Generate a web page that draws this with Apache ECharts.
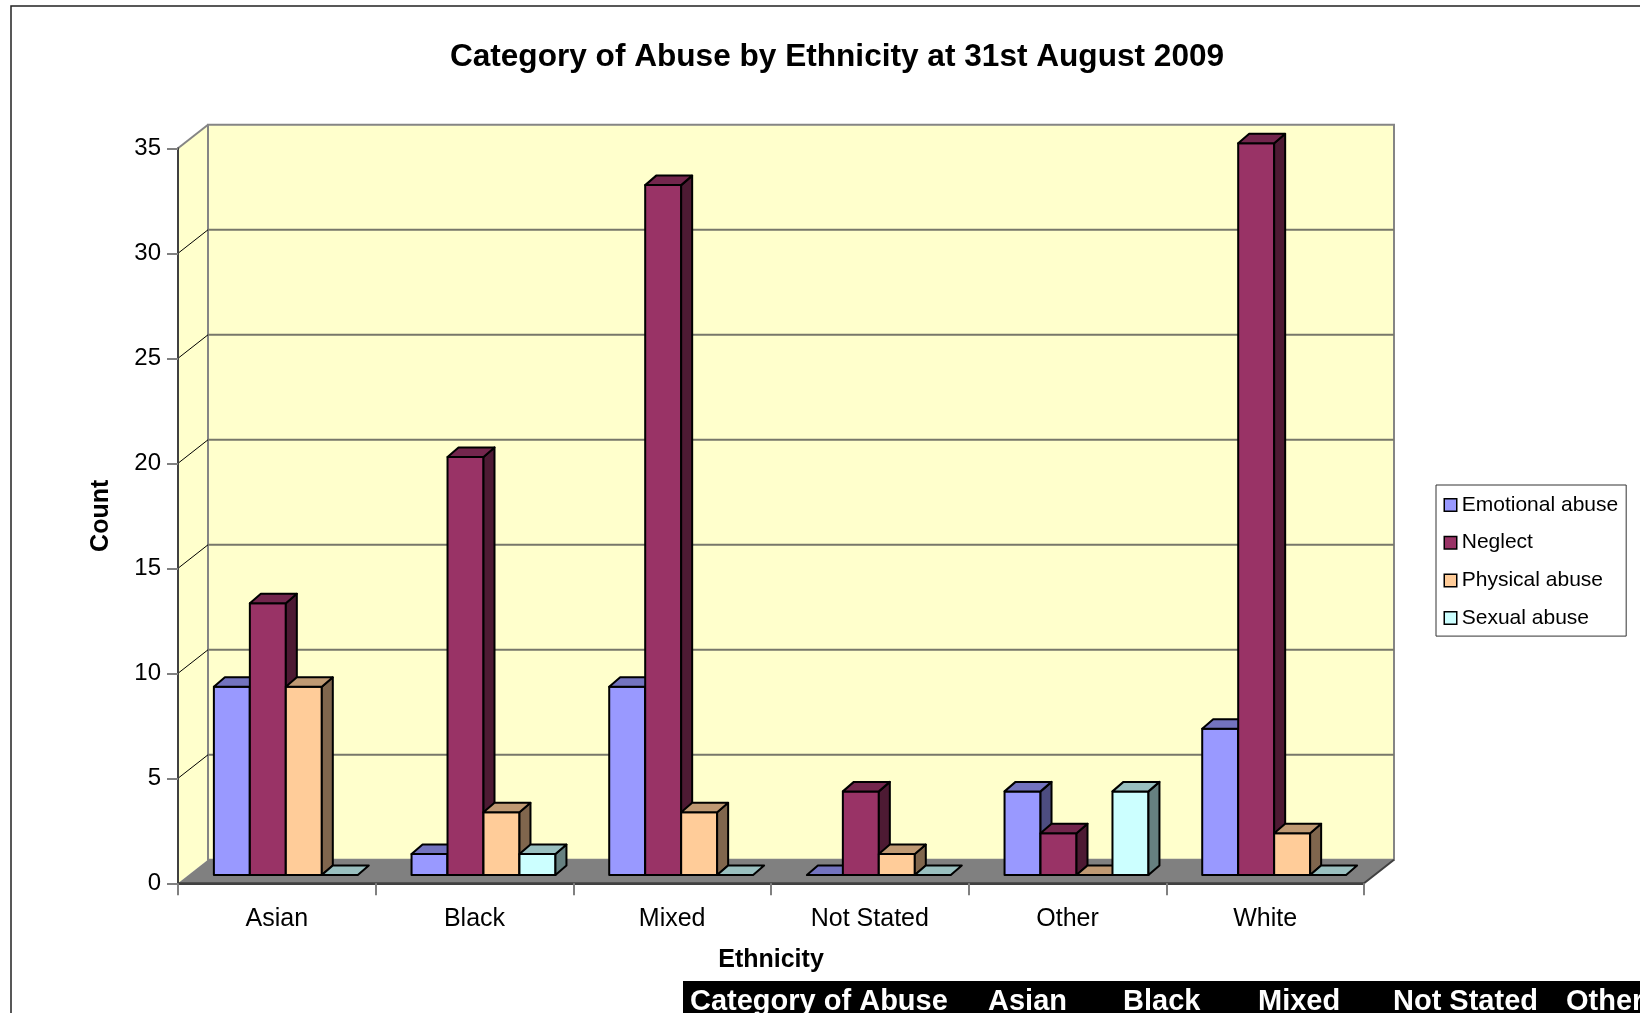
<!DOCTYPE html>
<html>
<head>
<meta charset="utf-8">
<script src="https://cdn.jsdelivr.net/npm/echarts@6/dist/echarts.min.js"></script>
<style>
html,body{margin:0;padding:0;background:#fff;}
#c{width:1640px;height:1013px;}
</style>
</head>
<body>
<div id="c"></div>
<script>
// ---- data ----
const categories = ['Asian', 'Black', 'Mixed', 'Not Stated', 'Other', 'White'];
const emotionalAbuse = [9, 1, 9, 0, 4, 7];
const neglect = [13, 20, 33, 4, 2, 35];
const physicalAbuse = [9, 3, 3, 1, 0, 2];
const sexualAbuse = [0, 1, 0, 0, 4, 0];
const seriesNames = ['Emotional abuse', 'Neglect', 'Physical abuse', 'Sexual abuse'];
const yTicks = [0, 5, 10, 15, 20, 25, 30, 35];
const chartTitle = 'Category of Abuse by Ethnicity at 31st August 2009';
const tableHeaders = ['Category of Abuse', 'Asian', 'Black', 'Mixed', 'Not Stated', 'Other'];

// ---- style ----
const FONT = '"Liberation Sans", Arial, sans-serif';
const faceColors = [
  { front: '#9999FF', top: '#7373BF', side: '#4D4D80' },
  { front: '#993366', top: '#73264D', side: '#4D1A33' },
  { front: '#FFCC99', top: '#BF9973', side: '#80664D' },
  { front: '#CCFFFF', top: '#99BFBF', side: '#668080' }
];
const WALL_D = [30, -23.5];   // depth vector of walls / floor
const BAR_OFF = [9, -8.3];    // bar front plane offset
const BAR_D = [11, -9.5];     // bar depth
const BAR_FRAC = 0.182;       // bar width as fraction of band
const BAR_YSCALE = 0.9955;    // slight perspective shrink of bar plane
const tableX = [690, 988, 1123, 1258, 1393, 1566];

const allSeries = [emotionalAbuse, neglect, physicalAbuse, sexualAbuse];

function renderWalls(params, api) {
  const cs = params.coordSys;
  const x0 = cs.x, x1 = cs.x + cs.width;
  const y0 = api.coord([0, 0])[1];
  const yTop = api.coord([0, yTicks[yTicks.length - 1]])[1];
  const dx = WALL_D[0], dy = WALL_D[1];
  const children = [];
  children.push({ type: 'polygon', shape: { points: [[x0, y0], [x0, yTop], [x0 + dx, yTop + dy], [x0 + dx, y0 + dy]] },
    style: { fill: '#FFFFCC', stroke: null } });
  children.push({ type: 'rect', shape: { x: x0 + dx, y: yTop + dy, width: x1 - x0, height: y0 - yTop },
    style: { fill: '#FFFFCC', stroke: '#858585', lineWidth: 2 } });
  yTicks.forEach(function (t) {
    if (t === 0) return;
    const yy = api.coord([0, t])[1];
    if (t !== yTicks[yTicks.length - 1]) {
      children.push({ type: 'line', shape: { x1: x0 + dx, y1: yy + dy, x2: x1 + dx, y2: yy + dy },
        style: { stroke: '#77776A', lineWidth: 2 } });
      children.push({ type: 'line', shape: { x1: x0, y1: yy, x2: x0 + dx, y2: yy + dy },
        style: { stroke: '#000', lineWidth: 1 } });
    } else {
      children.push({ type: 'line', shape: { x1: x0, y1: yy, x2: x0 + dx, y2: yy + dy },
        style: { stroke: '#858585', lineWidth: 2 } });
    }
  });
  children.push({ type: 'polygon', shape: { points: [[x0, y0], [x1, y0], [x1 + dx, y0 + dy], [x0 + dx, y0 + dy]] },
    style: { fill: '#808080', stroke: null } });
  children.push({ type: 'polyline', shape: { points: [[x0, y0], [x1, y0], [x1 + dx, y0 + dy]] },
    style: { fill: null, stroke: '#404040', lineWidth: 2 } });
  return { type: 'group', children: children };
}

function makeBarRenderer(k) {
  return function (params, api) {
    const i = api.value(0);
    const v = api.value(1);
    const band = api.size([1, 0])[0];
    const bw = band * BAR_FRAC;
    const base = api.coord([i, 0]);
    const top = api.coord([i, v]);
    const left = base[0] - 2 * bw + k * bw + BAR_OFF[0];
    const yb = base[1] + BAR_OFF[1];
    const yt = yb - (base[1] - top[1]) * BAR_YSCALE;
    const c = faceColors[k];
    const ddx = BAR_D[0], ddy = BAR_D[1];
    const st = { stroke: '#000', lineWidth: 2, lineJoin: 'round' };
    const children = [];
    if (v > 0) {
      children.push({ type: 'rect', shape: { x: left, y: yt, width: bw, height: yb - yt },
        style: Object.assign({ fill: c.front }, st) });
      children.push({ type: 'polygon', shape: { points: [[left + bw, yt], [left + bw + ddx, yt + ddy], [left + bw + ddx, yb + ddy], [left + bw, yb]] },
        style: Object.assign({ fill: c.side }, st) });
    }
    children.push({ type: 'polygon', shape: { points: [[left, yt], [left + bw, yt], [left + bw + ddx, yt + ddy], [left + ddx, yt + ddy]] },
      style: Object.assign({ fill: c.top }, st) });
    return { type: 'group', children: children };
  };
}

const chart = echarts.init(document.getElementById('c'), null, { renderer: 'canvas' });

const series = [{
  type: 'custom', name: 'walls', z: 1, silent: true,
  renderItem: renderWalls, data: [[0, 0]], clip: false
}];
allSeries.forEach(function (arr, k) {
  series.push({
    type: 'custom', name: seriesNames[k], z: 2 + k, silent: true, clip: false,
    itemStyle: { color: faceColors[k].front },
    renderItem: makeBarRenderer(k),
    data: arr.map(function (v, i) { return [i, v]; })
  });
});

const graphics = [
  { type: 'rect', z: 100, shape: { x: 11, y: 6, width: 1700, height: 1100 },
    style: { fill: null, stroke: '#222', lineWidth: 1.5 } },
  { type: 'text', z: 100, x: 837, y: 57,
    style: { text: chartTitle, font: 'bold 31.6px ' + FONT, fill: '#000', align: 'center', verticalAlign: 'middle' } },
  { type: 'rect', z: 100, shape: { x: 683, y: 981, width: 960, height: 40 }, style: { fill: '#000' } }
];
tableHeaders.forEach(function (h, j) {
  graphics.push({ type: 'text', z: 101, x: tableX[j], y: 1002,
    style: { text: h, font: 'bold 29px ' + FONT, fill: '#fff', align: 'left', verticalAlign: 'middle' } });
});

chart.setOption({
  animation: false,
  backgroundColor: '#fff',
  textStyle: { fontFamily: FONT },
  grid: { left: 178, top: 148.3, width: 1186, height: 735, containLabel: false },
  legend: {
    orient: 'vertical', left: 1436, top: 485,
    padding: [9.5, 8, 7.5, 7.5], itemWidth: 12.5, itemHeight: 12.5, itemGap: 16.7, itemTextGap: 8.4,
    borderColor: '#333', borderWidth: 1, backgroundColor: '#fff',
    textStyle: { fontSize: 21, lineHeight: 21, color: '#000', fontFamily: FONT },
    data: seriesNames.map(function (n, k) {
      return { name: n, icon: 'rect', itemStyle: { color: faceColors[k].front, borderColor: '#000', borderWidth: 1.5 } };
    })
  },
  xAxis: {
    type: 'category', data: categories, z: 10,
    name: 'Ethnicity', nameLocation: 'middle', nameGap: 64,
    nameTextStyle: { fontSize: 25, fontWeight: 'bold', color: '#000', fontFamily: FONT },
    axisLine: { show: true, lineStyle: { color: '#404040', width: 2 } },
    axisTick: { show: true, interval: 0, length: 12, lineStyle: { color: '#808080', width: 2 } },
    axisLabel: { fontSize: 25, color: '#000', margin: 23, lineHeight: 25, fontFamily: FONT, interval: 0 },
    splitLine: { show: false }
  },
  yAxis: {
    type: 'value', min: 0, max: 35, interval: 5, z: 10,
    name: 'Count', nameLocation: 'middle', nameGap: 64,
    nameTextStyle: { fontSize: 25, fontWeight: 'bold', color: '#000', fontFamily: FONT },
    axisLine: { show: true, lineStyle: { color: '#404040', width: 2 } },
    axisTick: { show: true, length: 11, lineStyle: { color: '#808080', width: 2 } },
    axisLabel: { fontSize: 24, color: '#000', margin: 17, fontFamily: FONT },
    splitLine: { show: false }
  },
  graphic: graphics,
  series: series
});
</script>
</body>
</html>
